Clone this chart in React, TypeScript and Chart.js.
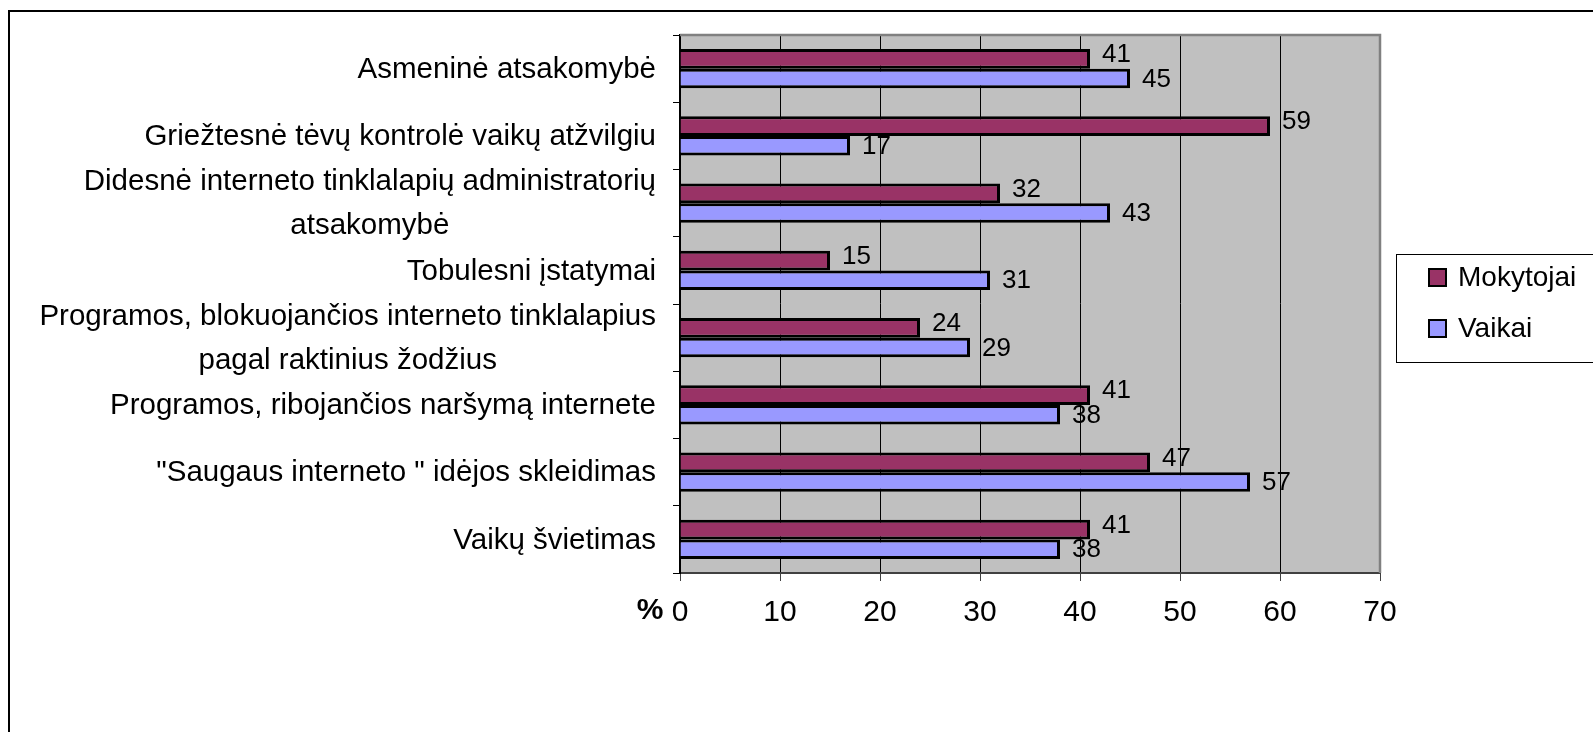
import React, { useEffect, useRef } from "react";
import { Chart, registerables } from "chart.js";

Chart.register(...registerables);

const categories: (string | string[])[] = [
  "Asmeninė atsakomybė",
  "Griežtesnė tėvų kontrolė vaikų atžvilgiu",
  ["Didesnė interneto tinklalapių administratorių", "atsakomybė"],
  "Tobulesni įstatymai",
  ["Programos, blokuojančios interneto tinklalapius", "pagal raktinius žodžius"],
  "Programos, ribojančios naršymą internete",
  "\"Saugaus interneto \" idėjos skleidimas",
  "Vaikų švietimas",
];

const seriesNames = ["Mokytojai", "Vaikai"];
const mokytojai = [41, 59, 32, 15, 24, 41, 47, 41];
const vaikai = [45, 17, 43, 31, 29, 38, 57, 38];
const seriesColors = ["#993366", "#9999FF"];
const xTicks = [0, 10, 20, 30, 40, 50, 60, 70];
const axisTitle = "%";

const FONT = "'Liberation Sans', Arial, sans-serif";

const framePlugin = {
  id: "framePlugin",
  beforeDraw(chart: any) {
    const { ctx, chartArea: a } = chart;
    ctx.save();
    ctx.fillStyle = "#ffffff";
    ctx.fillRect(0, 0, chart.width, chart.height);
    ctx.strokeStyle = "#000";
    ctx.lineWidth = 2;
    ctx.strokeRect(9, 11, 3000, 3000);
    ctx.fillStyle = "#C0C0C0";
    ctx.fillRect(a.left, a.top, a.right - a.left, a.bottom - a.top);
    ctx.restore();
  },
  afterDraw(chart: any) {
    const { ctx, chartArea: a } = chart;
    ctx.save();
    ctx.strokeStyle = "#808080";
    ctx.lineWidth = 2.5;
    ctx.beginPath();
    ctx.moveTo(a.left, a.top);
    ctx.lineTo(a.right, a.top);
    ctx.lineTo(a.right, a.bottom);
    ctx.stroke();

    const yScale = chart.scales.y;
    ctx.fillStyle = "#000";
    ctx.font = `29.5px ${FONT}`;
    ctx.textBaseline = "middle";
    const rightEdge = 656;
    const lh = 44;
    (chart.data.labels as any[]).forEach((lab, i) => {
      const lines = Array.isArray(lab) ? lab : [lab];
      const y = yScale.getPixelForValue(i);
      const maxW = Math.max(...lines.map((l: string) => ctx.measureText(l).width));
      const cx = rightEdge - maxW / 2;
      lines.forEach((l: string, j: number) => {
        const ly = y + (j - (lines.length - 1) / 2) * lh + 1;
        ctx.textAlign = "center";
        ctx.fillText(l, cx, ly);
      });
    });

    ctx.font = `bold 30px ${FONT}`;
    ctx.textAlign = "center";
    ctx.textBaseline = "middle";
    ctx.fillText(axisTitle, 650, 611);

    const lx = 1396.5, ly = 254.5, lw = 300, lhgt = 108;
    ctx.fillStyle = "#fff";
    ctx.fillRect(lx, ly, lw, lhgt);
    ctx.strokeStyle = "#000";
    ctx.lineWidth = 1;
    ctx.strokeRect(lx, ly, lw, lhgt);
    const itemY = [277, 328];
    chart.data.datasets.forEach((ds: any, k: number) => {
      const cy = itemY[k];
      ctx.fillStyle = ds.backgroundColor;
      ctx.fillRect(1429, cy - 8, 17, 17);
      ctx.strokeStyle = "#000";
      ctx.lineWidth = 2;
      ctx.strokeRect(1429, cy - 8, 17, 17);
      ctx.fillStyle = "#000";
      ctx.font = `28px ${FONT}`;
      ctx.textAlign = "left";
      ctx.textBaseline = "middle";
      ctx.fillText(ds.label, 1458, cy + 1);
    });
    ctx.restore();
  },
  afterDatasetsDraw(chart: any) {
    const { ctx } = chart;
    ctx.save();
    ctx.fillStyle = "#000";
    ctx.font = `26px ${FONT}`;
    ctx.textAlign = "left";
    ctx.textBaseline = "middle";
    chart.data.datasets.forEach((ds: any, k: number) => {
      const meta = chart.getDatasetMeta(k);
      const dy = k === 0 ? -4 : 1;
      meta.data.forEach((bar: any, i: number) => {
        ctx.fillText(String(ds.data[i]), bar.x + 12, bar.y + dy);
      });
    });
    ctx.restore();
  },
};

export default function App() {
  const ref = useRef<HTMLCanvasElement | null>(null);
  useEffect(() => {
    if (!ref.current) return;
    const chart = new Chart(ref.current, {
      type: "bar",
      data: {
        labels: categories as any,
        datasets: [
          {
            label: seriesNames[0],
            data: mokytojai,
            backgroundColor: seriesColors[0],
            borderColor: "#000",
            borderWidth: 3,
            categoryPercentage: 0.58,
            barPercentage: 1.0,
          },
          {
            label: seriesNames[1],
            data: vaikai,
            backgroundColor: seriesColors[1],
            borderColor: "#000",
            borderWidth: 3,
            categoryPercentage: 0.58,
            barPercentage: 1.0,
          },
        ],
      },
      options: {
        indexAxis: "y",
        responsive: false,
        animation: false,
        layout: { padding: { top: 35, right: 213, left: 0, bottom: 0 } },
        plugins: {
          legend: { display: false },
          tooltip: { enabled: false },
        },
        scales: {
          x: {
            min: 0,
            max: 70,
            afterBuildTicks: (scale: any) => {
              scale.ticks = xTicks.map((v) => ({ value: v }));
            },
            afterFit: (scale: any) => {
              scale.height = 159;
            },
            ticks: {
              color: "#000",
              font: { family: FONT, size: 30 },
              padding: 14,
              maxRotation: 0,
            },
            grid: {
              color: "#000",
              lineWidth: 1,
              drawTicks: true,
              tickLength: 8,
              tickColor: "#404040",
            },
            border: { display: true, color: "#404040", width: 2 },
          },
          y: {
            type: "category",
            offset: true,
            afterFit: (scale: any) => {
              scale.width = 680;
            },
            ticks: { display: false },
            grid: {
              offset: true,
              drawOnChartArea: false,
              drawTicks: true,
              tickLength: 7,
              color: "#000",
              lineWidth: 1,
            },
            border: { display: true, color: "#000", width: 2 },
          },
        },
      },
      plugins: [framePlugin],
    });
    return () => chart.destroy();
  }, []);
  return (
    <div style={{ position: "fixed", left: 0, top: 0, width: 1593, height: 732, background: "#fff" }}>
      <canvas ref={ref} width={1593} height={732} style={{ display: "block" }} />
    </div>
  );
}
